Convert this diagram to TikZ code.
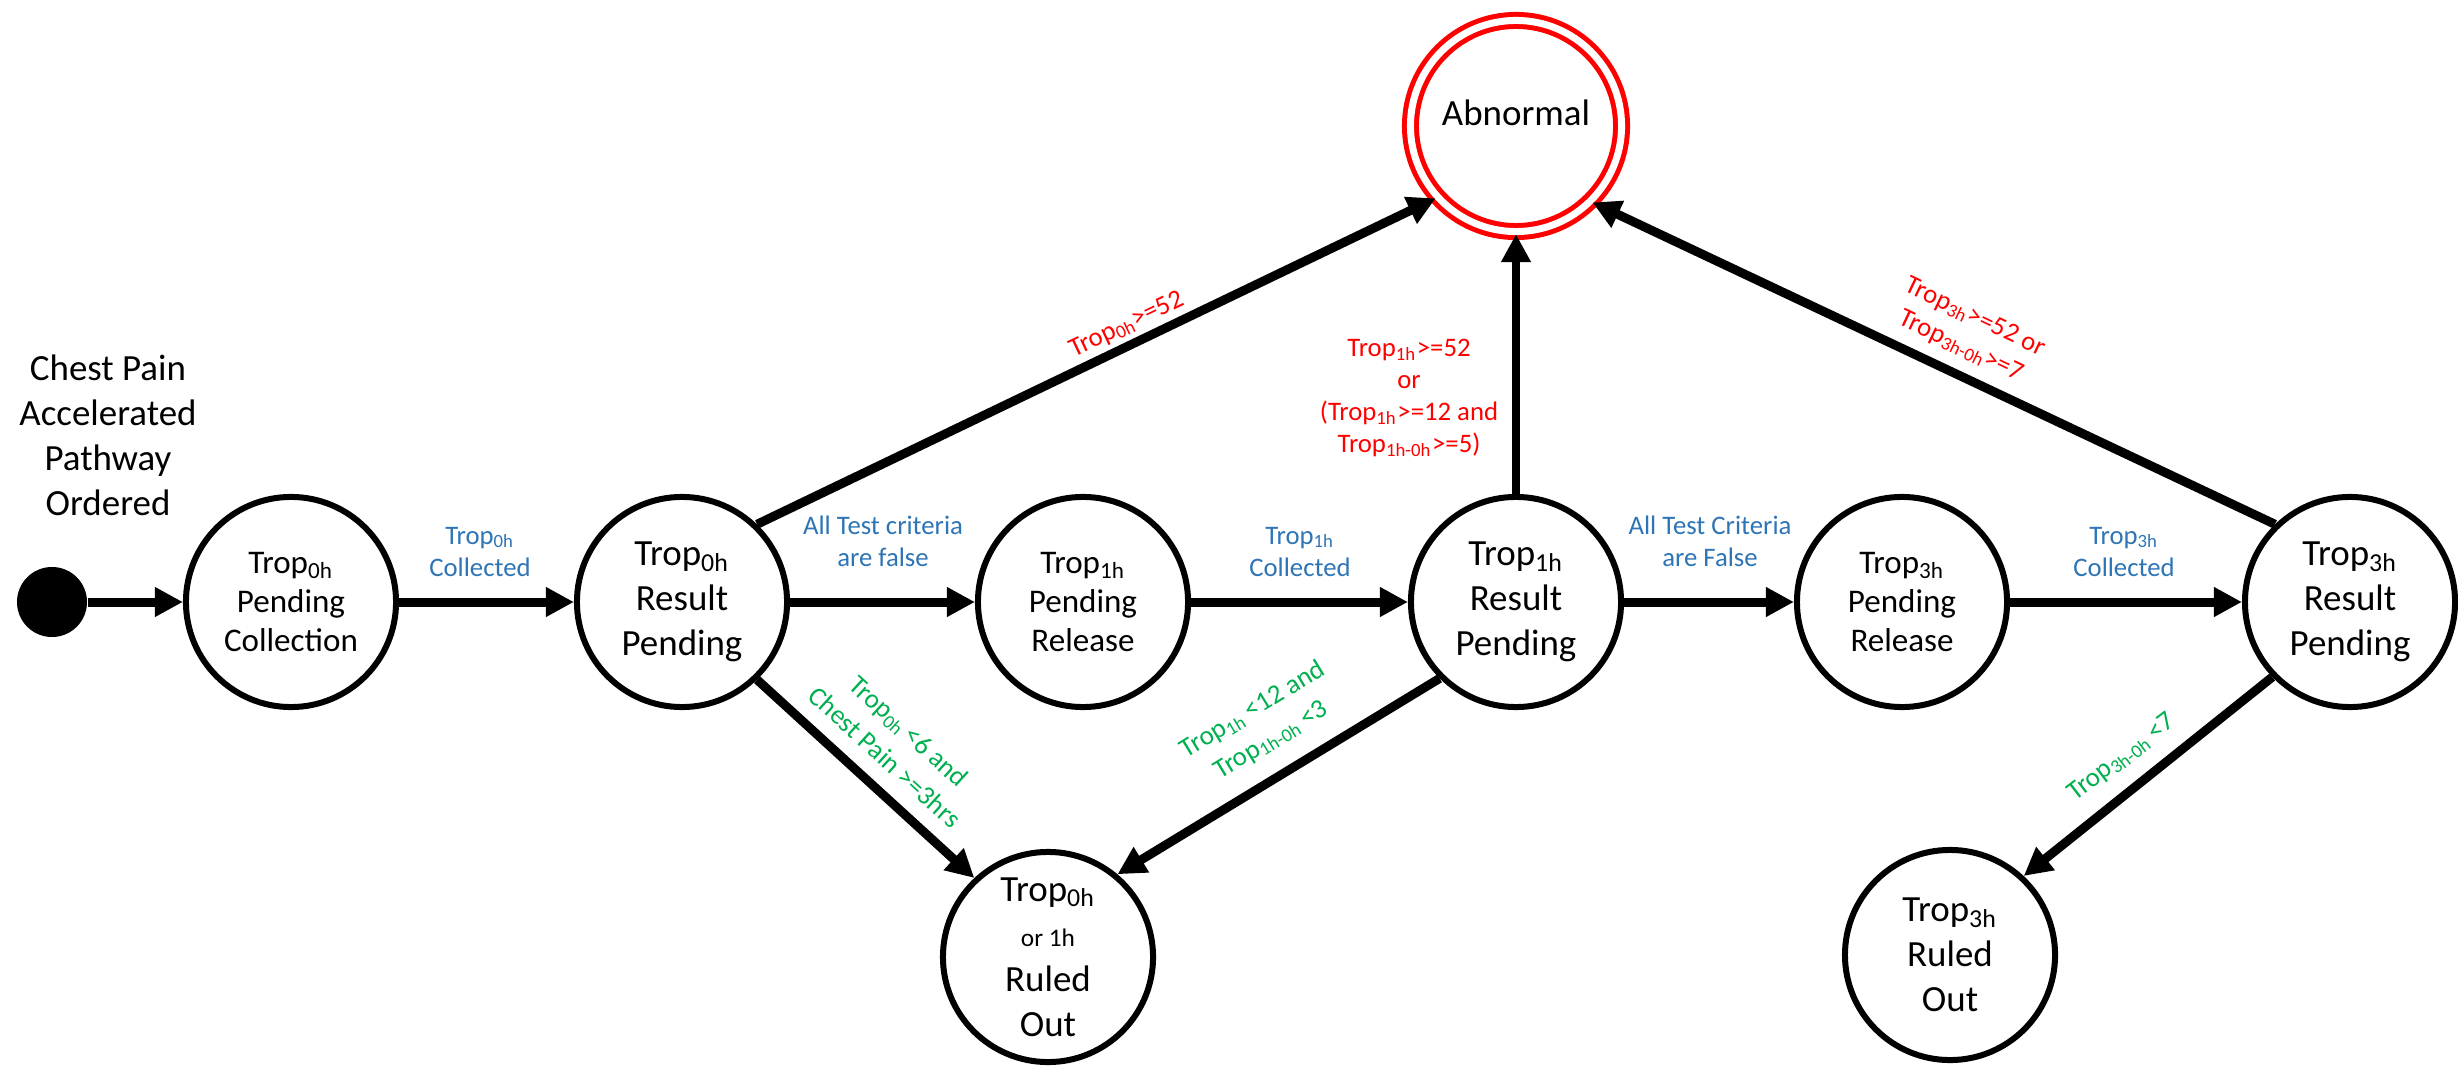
\documentclass[tikz,border=0pt]{standalone}
\usepackage{fontspec}
\setmainfont{Carlito}
\usetikzlibrary{arrows.meta}

\definecolor{lblblue}{HTML}{2E75B6}
\definecolor{lblred}{HTML}{FF0000}
\definecolor{lblgreen}{HTML}{00B050}

\begin{document}
\begin{tikzpicture}[x=0.01cm,y=-0.01cm,
  bigtext/.style={font=\fontsize{10.5}{12.8}\selectfont},
  smalltext/.style={font=\fontsize{9.4}{11.1}\selectfont},
  state/.style={circle, draw=black, line width=0.06cm, minimum size=2.1cm,
    inner sep=0pt, align=center, bigtext},
  waitstate/.style={state, smalltext},
  endstate/.style={circle, draw=lblred, double=white, line width=0.05cm,
    double distance=0.07cm, minimum size=2.11cm, inner sep=0pt, bigtext},
  startdot/.style={circle, fill=black, minimum size=0.7cm, inner sep=0pt},
  flow/.style={line width=0.09cm, -{Triangle[length=0.28cm,width=0.28cm]}},
  cond/.style={align=center, inner sep=1pt, font=\fontsize{7.6}{9.1}\selectfont},
  blue lbl/.style={cond, text=lblblue},
  red lbl/.style={cond, text=lblred},
  green lbl/.style={cond, text=lblgreen, font=\fontsize{7.7}{10}\selectfont},
]
\useasboundingbox (0,0) rectangle (2458,1067);
\fill[white] (0,0) rectangle (2458,1067);

% entry point
\node[bigtext, align=center] (title) at (108,435)
  {Chest Pain\\Accelerated\\Pathway\\Ordered};
\node[startdot] (s) at (52,602) {};

% states along the main row
\node[waitstate] (A) at (291,602) {Trop\textsubscript{0h}\\Pending\\Collection};
\node[state]     (B) at (682,602) {Trop\textsubscript{0h}\\Result\\Pending};
\node[waitstate] (C) at (1083,602) {Trop\textsubscript{1h}\\Pending\\Release};
\node[state]     (D) at (1516,602) {Trop\textsubscript{1h}\\Result\\Pending};
\node[waitstate] (E) at (1902,602) {Trop\textsubscript{3h}\\Pending\\Release};
\node[state]     (F) at (2350,602) {Trop\textsubscript{3h}\\Result\\Pending};

% terminal states
\node[state] (G) at (1048,957)
  {Trop\textsubscript{0h}\\{\fontsize{7.2}{8}\selectfont or 1h}\\Ruled\\Out};
\node[state] (H) at (1950,955) {Trop\textsubscript{3h}\\Ruled\\Out};
\node[endstate] (X) at (1516,126)
  {\raisebox{0.13cm}[\height][\depth]{Abnormal}};

% transitions
\draw[flow] (s) -- (A);
\draw[flow] (A) -- (B);
\draw[flow] (B) -- (C);
\draw[flow] (C) -- (D);
\draw[flow] (D) -- (E);
\draw[flow] (E) -- (F);
\draw[flow] (B.46) -- (X.222);
\draw[flow, line width=0.08cm] (D) -- (X);
\draw[flow] (F.134) -- (X.315);
\draw[flow] (B.314) -- (G.133);
\draw[flow] (D.225) -- (G.50);
\draw[flow] (F.224) -- (H.47);

% transition conditions
\node[blue lbl] (l1) at (480,552) {Trop\textsubscript{0h}\\Collected};
\node[blue lbl] (l2) at (883,541) {All Test criteria\\are false};
\node[blue lbl] (l3) at (1300,552) {Trop\textsubscript{1h}\\Collected};
\node[blue lbl] (l4) at (1710,541) {All Test Criteria\\are False};
\node[blue lbl] (l5) at (2124,552) {Trop\textsubscript{3h}\\Collected};

\node[red lbl, rotate=25.5] (r1) at (1127,325) {Trop\textsubscript{0h}>=52};
\node[red lbl] (r2) at (1409,398)
  {Trop\textsubscript{1h}>=52\\or\\(Trop\textsubscript{1h}>=12 and\\Trop\textsubscript{1h-0h}>=5)};
\node[red lbl, rotate=-25.5] (r3) at (1968,332)
  {Trop\textsubscript{3h}>=52 or\\Trop\textsubscript{3h-0h}>=7};

\node[green lbl, rotate=-42.4] (g1) at (897,744)
  {Trop\textsubscript{0h}\,<6 and\\Chest Pain >=3hrs};
\node[green lbl, rotate=31.3] (g2) at (1262,725)
  {Trop\textsubscript{1h}\,<12 and\\Trop\textsubscript{1h-0h}\,<3};
\node[green lbl, rotate=37.3] (g3) at (2122,758) {Trop\textsubscript{3h-0h}\,<7};
\end{tikzpicture}
\end{document}
